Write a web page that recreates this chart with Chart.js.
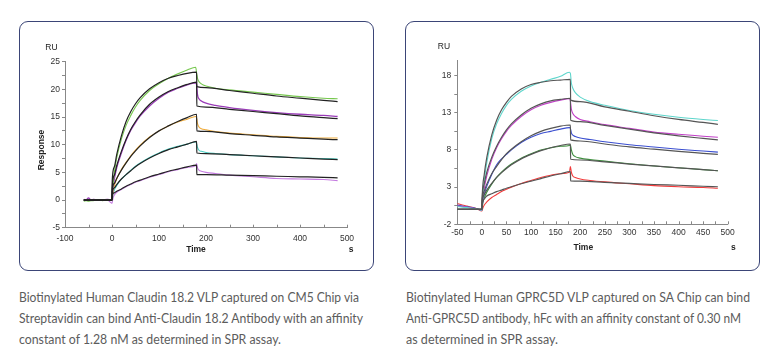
<!DOCTYPE html>
<html><head><meta charset="utf-8">
<script src="https://cdn.jsdelivr.net/npm/chart.js@4.4.1/dist/chart.umd.min.js"></script>
<style>
html,body{margin:0;padding:0;background:#fff;width:777px;height:357px;overflow:hidden;position:relative;}
.card{position:absolute;border:1px solid #3b4577;border-radius:9px;box-sizing:border-box;}
.cv{position:absolute;}
.cap{position:absolute;font-family:Lato,sans-serif;font-size:13.5px;color:#5c5c5c;line-height:21px;white-space:nowrap;}
.cap div{transform-origin:0 50%;}
</style></head><body>
<div class="card" style="left:19px;top:21px;width:355px;height:250px"></div>
<div class="card" style="left:405px;top:21px;width:355px;height:250px"></div>
<div class="cv" style="left:20px;top:22px;"><canvas id="c1" width="353" height="247"></canvas></div>
<div class="cv" style="left:406px;top:22px;"><canvas id="c2" width="352" height="247"></canvas></div>
<div class="cap" id="capL" style="left:19px;top:287px;">
<div data-w="340">Biotinylated Human Claudin 18.2 VLP captured on CM5 Chip via</div>
<div data-w="344">Streptavidin can bind Anti-Claudin 18.2 Antibody with an affinity</div>
<div data-w="262">constant of 1.28 nM as determined in SPR assay.</div>
</div>
<div class="cap" id="capR" style="left:406px;top:287px;">
<div data-w="344">Biotinylated Human GPRC5D VLP captured on SA Chip can bind</div>
<div data-w="335">Anti-GPRC5D antibody, hFc with an affinity constant of 0.30 nM</div>
<div data-w="152">as determined in SPR assay.</div>
</div>
<script>
// ---------- LEFT CHART DATA (Claudin 18.2) ----------
const leftXTicks = [-100, 0, 100, 200, 300, 400, 500];
const leftYTicks = [-5, 0, 5, 10, 15, 20, 25];
const leftFitT = [-60, 0, 0.5, 5, 10, 20, 30, 40, 50, 60, 80, 100, 120, 140, 160, 180, 180.5, 200, 250, 300, 350, 400, 450, 480];
const leftFit1 = [0, 0, 3.5, 6.0, 8.2, 11.6, 14.2, 16.0, 17.4, 18.5, 20.1, 21.2, 22.0, 22.5, 22.9, 23.1, 20.5, 20.3, 19.8, 19.3, 18.8, 18.4, 18.0, 17.8];
const leftFit2 = [0, 0, 2.5, 4.5, 6.2, 8.8, 11.0, 12.8, 14.2, 15.4, 17.3, 18.6, 19.6, 20.3, 20.9, 21.3, 17.0, 16.8, 16.4, 16.0, 15.6, 15.2, 14.9, 14.7];
const leftFit3 = [0, 0, 2.0, 3.0, 3.9, 5.4, 6.7, 7.9, 8.9, 9.8, 11.3, 12.5, 13.4, 14.2, 14.9, 15.5, 12.5, 12.4, 12.0, 11.7, 11.4, 11.2, 11.0, 10.9];
const leftFit4 = [0, 0, 1.5, 2.2, 2.8, 3.8, 4.6, 5.3, 6.0, 6.6, 7.6, 8.4, 9.1, 9.6, 10.1, 10.6, 8.5, 8.4, 8.2, 8.0, 7.8, 7.6, 7.4, 7.3];
const leftFit5 = [0, 0, 1.0, 1.3, 1.6, 2.0, 2.5, 2.9, 3.3, 3.6, 4.2, 4.7, 5.2, 5.6, 6.0, 6.3, 4.6, 4.6, 4.5, 4.4, 4.3, 4.2, 4.1, 4.0];
const leftMeasT = [-60, -55, -50, -45, -40, -30, -20, -10, 0, 2, 5, 10, 20, 30, 40, 50, 60, 80, 100, 120, 140, 160, 178, 180, 182, 185, 190, 200, 220, 250, 300, 350, 400, 450, 480];
const leftGreen  = [-0.2, -0.1, -0.2, -0.1, -0.1, 0, -0.1, 0, 0, 2.5, 5.0, 7.6, 11.0, 13.5, 15.3, 16.8, 18.0, 19.8, 21.0, 22.0, 22.8, 23.5, 24.0, 23.0, 22.0, 21.4, 21.0, 20.6, 20.2, 19.9, 19.5, 19.1, 18.7, 18.4, 18.3];
const leftPurple = [0.1, 0, 0.4, 0, 0.1, 0, 0, 0.1, 0, 1.8, 3.8, 5.8, 8.5, 10.8, 12.6, 14.0, 15.2, 17.0, 18.4, 19.5, 20.2, 20.8, 21.2, 20.8, 19.0, 18.3, 17.9, 17.5, 17.1, 16.7, 16.2, 15.8, 15.5, 15.3, 15.1];
const leftOrange = [0, 0, 0, 0, 0, 0, 0, 0, 0, 1.2, 2.6, 3.8, 5.5, 6.8, 8.0, 9.0, 9.9, 11.4, 12.5, 13.4, 14.1, 14.6, 15.1, 14.8, 13.8, 13.2, 12.9, 12.7, 12.4, 12.1, 11.8, 11.5, 11.3, 11.2, 11.2];
const leftCyan   = [0, 0, 0, 0, 0, 0, 0, 0, 0, 0.9, 1.8, 2.6, 3.8, 4.6, 5.4, 6.1, 6.7, 7.7, 8.5, 9.2, 9.7, 10.1, 10.5, 10.2, 9.5, 9.0, 8.8, 8.6, 8.4, 8.2, 8.0, 7.8, 7.6, 7.5, 7.4];
const leftViolet = [0, 0, 0.1, 0, 0, 0, 0, 0, -0.6, 0.3, 0.9, 1.4, 1.9, 2.4, 2.8, 3.2, 3.5, 4.1, 4.6, 5.1, 5.5, 5.9, 6.2, 6.6, 5.8, 5.4, 5.2, 5.0, 4.8, 4.5, 4.2, 3.9, 3.8, 3.7, 3.5];

// ---------- RIGHT CHART DATA (GPRC5D) ----------
const rightXTicks = [-50, 0, 50, 100, 150, 200, 250, 300, 350, 400, 450, 500];
const rightYTicks = [-2, 3, 8, 13, 18];
const rightFitT = [-50, 0, 0.5, 5, 10, 20, 30, 40, 50, 60, 80, 100, 120, 140, 160, 180, 180.5, 200, 250, 300, 350, 400, 450, 480];
const rightFit1 = [0, 0, 1.5, 4.8, 7.0, 10.0, 12.0, 13.4, 14.4, 15.2, 16.2, 16.8, 17.1, 17.3, 17.4, 17.5, 14.7, 14.5, 13.8, 13.2, 12.6, 12.1, 11.7, 11.45];
const rightFit2 = [0, 0, 1.3, 3.5, 5.0, 7.0, 8.5, 9.7, 10.7, 11.5, 12.7, 13.6, 14.2, 14.6, 14.8, 14.95, 12.0, 11.8, 11.3, 10.8, 10.3, 9.9, 9.55, 9.35];
const rightFit3 = [0, 0, 1.1, 2.5, 3.4, 4.8, 5.8, 6.7, 7.5, 8.1, 9.1, 9.9, 10.5, 10.9, 11.2, 11.35, 9.35, 9.2, 8.8, 8.4, 8.1, 7.8, 7.55, 7.4];
const rightFit4 = [0, 0, 0.9, 2.0, 2.6, 3.5, 4.3, 4.95, 5.5, 6.0, 6.8, 7.4, 7.9, 8.3, 8.6, 8.8, 6.75, 6.65, 6.4, 6.1, 5.85, 5.6, 5.35, 5.2];
const rightFit5 = [0, 0, 0.6, 1.4, 1.8, 2.1, 2.4, 2.6, 2.85, 3.05, 3.45, 3.8, 4.15, 4.5, 4.8, 5.1, 3.83, 3.8, 3.65, 3.5, 3.35, 3.25, 3.12, 3.05];
const rightMeasT = [-50, -40, -30, -20, -10, 0, 2, 5, 10, 20, 30, 40, 50, 60, 80, 100, 120, 140, 160, 178, 180, 182, 185, 190, 200, 220, 250, 300, 350, 400, 450, 480];
const rightCyan    = [0.4, 0.3, 0.25, 0.15, 0.05, -0.1, 2.0, 4.0, 6.3, 9.5, 11.5, 12.9, 14.0, 14.8, 15.9, 16.6, 17.1, 17.5, 17.9, 18.45, 18.3, 17.0, 16.3, 15.7, 15.1, 14.5, 14.0, 13.3, 12.8, 12.4, 12.1, 11.95];
const rightMagenta = [0.5, 0.4, 0.3, 0.2, 0.05, -0.1, 1.5, 2.9, 4.5, 6.7, 8.3, 9.5, 10.5, 11.3, 12.5, 13.4, 14.0, 14.4, 14.7, 14.9, 14.6, 13.5, 12.9, 12.5, 12.1, 11.8, 11.4, 10.9, 10.4, 10.1, 9.85, 9.7];
const rightBlue    = [0.6, 0.45, 0.35, 0.25, 0.1, -0.1, 1.2, 2.1, 3.1, 4.7, 6.0, 6.8, 7.4, 8.0, 9.0, 9.7, 10.2, 10.5, 10.8, 11.0, 10.9, 10.3, 10.0, 9.8, 9.6, 9.4, 9.1, 8.7, 8.4, 8.1, 7.85, 7.7];
const rightGreen   = [0.5, 0.4, 0.3, 0.2, 0.05, -0.1, 0.9, 1.6, 2.3, 3.4, 4.3, 5.0, 5.6, 6.1, 6.9, 7.5, 8.0, 8.3, 8.5, 8.6, 8.7, 8.0, 7.4, 7.1, 6.9, 6.7, 6.5, 6.15, 5.85, 5.6, 5.35, 5.2];
const rightRed     = [0.8, 0.6, 0.45, 0.3, 0.1, -0.2, 0.2, 0.6, 1.0, 1.6, 2.0, 2.4, 2.7, 3.0, 3.5, 3.9, 4.3, 4.6, 4.8, 5.0, 5.75, 5.0, 4.5, 4.3, 4.1, 3.9, 3.7, 3.45, 3.2, 3.05, 2.95, 2.85];

// ---------- helpers ----------
const pts = (t, v) => t.map((x, i) => ({x: x, y: v[i]}));
function line(t, v, color, width) {
  return {data: pts(t, v), borderColor: color, borderWidth: width, pointRadius: 0,
          fill: false, tension: 0.4, cubicInterpolationMode: 'monotone'};
}
function withMinor(major) {
  const out = [];
  major.forEach((v, i) => { out.push({value: v}); if (i < major.length - 1) out.push({value: (v + major[i + 1]) / 2}); });
  return out;
}
const tickFont = {family: "'Liberation Sans', Arial, sans-serif", size: 8.5};

const deco = {
  id: 'deco',
  afterDraw(chart, args, opts) {
    const ctx = chart.ctx, xs = chart.scales.x, ys = chart.scales.y;
    ctx.save();
    ctx.strokeStyle = '#888'; ctx.lineWidth = 1;
    xs.ticks.forEach(tk => {
      const px = Math.round(xs.getPixelForValue(tk.value)) + 0.5;
      ctx.beginPath(); ctx.moveTo(px, ys.bottom); ctx.lineTo(px, ys.bottom - 3); ctx.stroke();
    });
    ctx.fillStyle = '#222'; ctx.textAlign = 'center'; ctx.textBaseline = 'middle';
    (opts.texts || []).forEach(t => {
      ctx.save(); ctx.font = t.font; ctx.translate(t.x, t.y);
      if (t.rot) ctx.rotate(t.rot);
      ctx.fillText(t.text, 0, 0); ctx.restore();
    });
    ctx.restore();
  }
};

function makeChart(id, cfg) {
  return new Chart(document.getElementById(id), {
    type: 'line',
    data: {datasets: cfg.datasets},
    plugins: [deco],
    options: {
      responsive: false, animation: false, parsing: true,
      layout: {padding: cfg.padding},
      plugins: {legend: {display: false}, tooltip: {enabled: false}, deco: {texts: cfg.texts}},
      scales: {
        x: {type: 'linear', min: cfg.xMin, max: cfg.xMax,
            afterBuildTicks: s => { s.ticks = withMinor(cfg.xTicks); },
            afterFit: s => { s.height = cfg.xH; },
            ticks: {autoSkip: false, maxRotation: 0, font: tickFont, color: '#333', padding: cfg.xPad,
                    callback: v => cfg.xTicks.includes(v) ? String(v) : ''},
            grid: {drawOnChartArea: false, drawTicks: false},
            border: {color: '#888', width: 1}},
        y: {type: 'linear', min: cfg.yMin, max: cfg.yMax,
            afterBuildTicks: s => { s.ticks = withMinor(cfg.yTicks); },
            afterFit: s => { s.width = cfg.yW; },
            ticks: {autoSkip: false, font: tickFont, color: '#333', padding: cfg.yPad,
                    callback: v => cfg.yTicks.includes(v) ? String(v) : ''},
            grid: {drawOnChartArea: false, drawTicks: true, tickLength: 3, color: '#888'},
            border: {color: '#888', width: 1}}
      }
    }
  });
}

const fitL = '#222222', fitR = '#555555';
makeChart('c1', {
  datasets: [
    line(leftFitT, leftFit1, fitL, 1.2), line(leftFitT, leftFit2, fitL, 1.2), line(leftFitT, leftFit3, fitL, 1.2),
    line(leftFitT, leftFit4, fitL, 1.2), line(leftFitT, leftFit5, fitL, 1.2),
    line(leftMeasT, leftGreen, '#77c84f', 1.1), line(leftMeasT, leftPurple, '#9a3cb8', 1.3),
    line(leftMeasT, leftOrange, '#efab3a', 1.1), line(leftMeasT, leftCyan, '#4ccfc4', 1.1),
    line(leftMeasT, leftViolet, '#c47be0', 1.1)
  ],
  padding: {left: 0, top: 39.7, right: 26, bottom: 0},
  xMin: -100, xMax: 500, yMin: -5, yMax: 25,
  xTicks: leftXTicks, yTicks: leftYTicks, xH: 41.3, yW: 45, xPad: 6, yPad: 2,
  texts: [
    {text: 'RU', x: 31.5, y: 26, font: "8.5px 'Liberation Sans', Arial"},
    {text: 'Time', x: 176, y: 228, font: "bold 8.5px 'Liberation Sans', Arial"},
    {text: 's', x: 331, y: 228, font: "bold 8.5px 'Liberation Sans', Arial"},
    {text: 'Response', x: 22, y: 128, rot: -Math.PI / 2, font: "bold 8.5px 'Liberation Sans', Arial"}
  ]
});

makeChart('c2', {
  datasets: [
    line(rightFitT, rightFit1, fitR, 1.2), line(rightFitT, rightFit2, fitR, 1.2), line(rightFitT, rightFit3, fitR, 1.2),
    line(rightFitT, rightFit4, fitR, 1.2), line(rightFitT, rightFit5, fitR, 1.2),
    line(rightMeasT, rightCyan, '#5fd6cc', 1.1), line(rightMeasT, rightMagenta, '#c241c8', 1.1),
    line(rightMeasT, rightBlue, '#3b4fd0', 1.1), line(rightMeasT, rightGreen, '#3e8f3e', 1.1),
    line(rightMeasT, rightRed, '#f23b3b', 1.1)
  ],
  padding: {left: 0, top: 38.7, right: 30.3, bottom: 0},
  xMin: -50, xMax: 500, yMin: -2, yMax: 20,
  xTicks: rightXTicks, yTicks: rightYTicks, xH: 44.7, yW: 51.3, xPad: 3, yPad: 3,
  texts: [
    {text: 'RU', x: 38, y: 24.7, font: "8.5px 'Liberation Sans', Arial"},
    {text: 'Time', x: 177.3, y: 225.7, font: "bold 8.5px 'Liberation Sans', Arial"},
    {text: 's', x: 327.3, y: 225.7, font: "bold 8.5px 'Liberation Sans', Arial"}
  ]
});

// fit caption lines to the reference widths
document.querySelectorAll('.cap div').forEach(d => {
  const target = +d.dataset.w;
  d.style.display = 'inline-block';
  const w2 = d.getBoundingClientRect().width;
  d.style.transform = 'scaleX(' + (target / w2) + ')';
  d.style.display = 'block';
  d.style.width = w2 + 'px';
});
</script>
</body></html>
